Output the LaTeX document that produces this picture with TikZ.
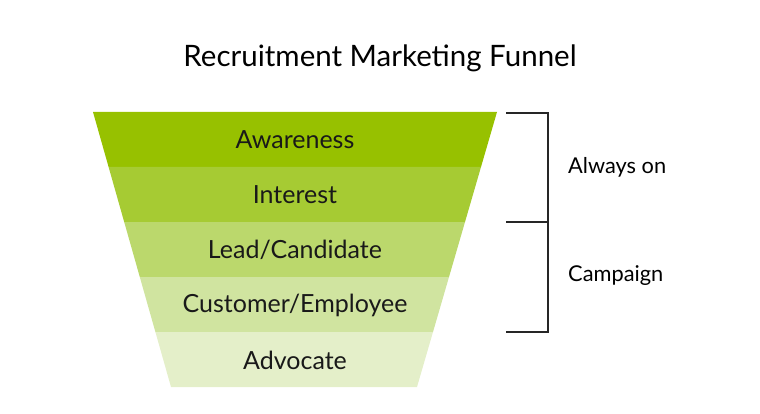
\documentclass[tikz,border=0pt]{standalone}
\usepackage{fontspec}
\setmainfont{Lato}
\definecolor{c1}{HTML}{97C100}
\definecolor{c2}{HTML}{A6CB33}
\definecolor{c3}{HTML}{BBD86C}
\definecolor{c4}{HTML}{D0E4A0}
\definecolor{c5}{HTML}{E4EFC9}
\tikzset{lbl/.style={font=\fontsize{25}{28}\selectfont, text=black!90, inner sep=0pt},
  side/.style={font=\fontsize{21.8}{24}\selectfont, anchor=west, inner sep=0pt},
  brk/.style={draw=black!85, line width=1.6pt}}
\begin{document}
\begin{tikzpicture}[x=1pt,y=-1pt]
\useasboundingbox (0,0) rectangle (760,414);
\foreach \t/\b/\c in {112/167/c1,167/222/c2,222/277/c3,277/332/c4,332/387/c5}{
  \fill[\c] ({93+(\t-112)/275*78},\t) -- ({497-(\t-112)/275*80},\t) -- ({497-(\b-112)/275*80},\b) -- ({93+(\b-112)/275*78},\b) -- cycle;
}
\node[font=\fontsize{29.5}{32}\selectfont, inner sep=0pt] (title) at (380,58) {Recruitment Marketing Funnel};
\node[lbl] (a) at (295,140) {Awareness};
\node[lbl] (b) at (295,195) {Interest};
\node[lbl] (c) at (295,250) {Lead/Candidate};
\node[lbl] (d) at (295,305) {Customer/Employee};
\node[lbl] (e) at (295,360) {Advocate};
\coordinate (t1) at (506,113);
\coordinate (t2) at (506,222);
\coordinate (t3) at (506,332);
\draw[brk] (t1) -- (548,113) -- (548,332) -- (t3);
\draw[brk] (t2) -- (548,222);
\node[side] (on) at (568,167) {Always on};
\node[side] (camp) at (568,276) {Campaign};
\end{tikzpicture}
\end{document}
